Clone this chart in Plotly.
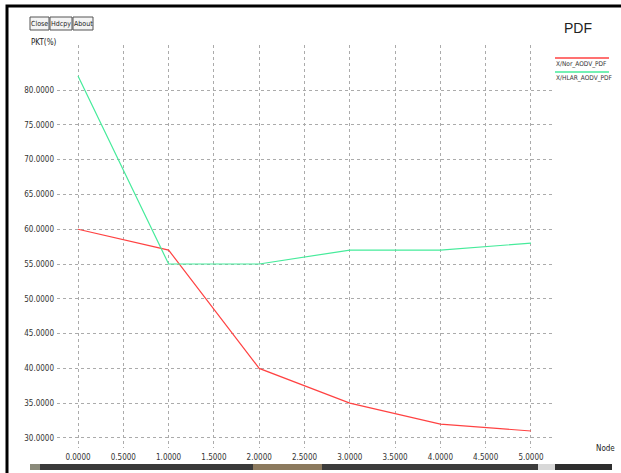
import plotly.graph_objects as go

nodes = [0, 1, 2, 3, 4, 5]
nor_aodv_pdf = [60, 57, 40, 35, 32, 31]
hlar_aodv_pdf = [82, 55, 55, 57, 57, 58]
series_names = ["X/Nor_AODV_PDF", "X/HLAR_AODV_PDF"]
x_ticks = [0, 0.5, 1, 1.5, 2, 2.5, 3, 3.5, 4, 4.5, 5]
y_ticks = [30, 35, 40, 45, 50, 55, 60, 65, 70, 75, 80]

RED = "#ff4242"
GREEN = "#46eb9b"
FONT = "Liberation Sans Narrow, Arial Narrow, DejaVu Sans Condensed, Liberation Sans, sans-serif"

fig = go.Figure()
fig.add_trace(go.Scatter(x=nodes, y=nor_aodv_pdf, mode="lines", name=series_names[0],
                         line=dict(color=RED, width=1.2), showlegend=False))
fig.add_trace(go.Scatter(x=nodes, y=hlar_aodv_pdf, mode="lines", name=series_names[1],
                         line=dict(color=GREEN, width=1.2), showlegend=False))

W, H = 621, 473
L, R, T, B = 57, 555, 45, 448

fig.update_layout(
    width=W, height=H,
    margin=dict(l=L, r=W - R, t=T, b=H - B, pad=0),
    paper_bgcolor="white", plot_bgcolor="white",
    font=dict(family=FONT, size=8, color="#333333"),
    xaxis=dict(range=[-0.232, 5.265], tickvals=x_ticks,
               ticktext=[f"{v:.4f}" for v in x_ticks],
               showgrid=True, gridcolor="#ababab", griddash="dot", gridwidth=1,
               zeroline=False, showline=False, ticks="", ticklabelstandoff=3,
               tickfont=dict(size=8, family=FONT, color="#333333")),
    yaxis=dict(range=[28.56, 86.47], tickvals=y_ticks,
               ticktext=[f"{v:.4f}" for v in y_ticks],
               showgrid=True, gridcolor="#ababab", griddash="dot", gridwidth=1,
               zeroline=False, showline=False, ticks="", ticklabelstandoff=2,
               tickfont=dict(size=8, family=FONT, color="#333333")),
)

# paper coordinates are relative to the plot area
def px_x(p):
    return (p - L) / (R - L)

def px_y(p):
    return (B - p) / (B - T)

shapes = []
annotations = []

# window frame
shapes.append(dict(type="path", xref="paper", yref="paper", layer="above",
                   path=f"M {px_x(7)} {px_y(473)} L {px_x(7)} {px_y(6)} L {px_x(621)} {px_y(6)}",
                   line=dict(color="black", width=3)))

# buttons
for label, x0, x1 in [("Close", 30, 49), ("Hdcpy", 50, 72), ("About", 73, 93)]:
    shapes.append(dict(type="rect", xref="paper", yref="paper",
                       x0=px_x(x0), x1=px_x(x1), y0=px_y(30), y1=px_y(17),
                       line=dict(color="#555555", width=1), fillcolor="#f4f4f4"))
    annotations.append(dict(xref="paper", yref="paper", x=px_x((x0 + x1) / 2), y=px_y(23.5),
                            text=label, showarrow=False, xanchor="center", yanchor="middle",
                            font=dict(family=FONT, size=7, color="#222222")))

annotations.append(dict(xref="paper", yref="paper", x=px_x(29), y=px_y(42.5), text="PKT(%)",
                        showarrow=False, xanchor="left", yanchor="middle",
                        font=dict(family=FONT, size=8, color="#222222")))
annotations.append(dict(xref="paper", yref="paper", x=px_x(562), y=px_y(28), text="PDF",
                        showarrow=False, xanchor="left", yanchor="middle",
                        font=dict(family="Liberation Sans, sans-serif", size=14, color="#222222")))
annotations.append(dict(xref="paper", yref="paper", x=px_x(594), y=px_y(448), text="Node",
                        showarrow=False, xanchor="left", yanchor="middle",
                        font=dict(family=FONT, size=8, color="#222222")))

# legend
for i, (name, col) in enumerate(zip(series_names, [RED, GREEN])):
    ly = 58 + 14 * i
    shapes.append(dict(type="line", xref="paper", yref="paper", x0=px_x(555), x1=px_x(609),
                       y0=px_y(ly), y1=px_y(ly), line=dict(color=col, width=1.5)))
    annotations.append(dict(xref="paper", yref="paper", x=px_x(554), y=px_y(ly + 5.5), text=name,
                            showarrow=False, xanchor="left", yanchor="middle",
                            font=dict(family=FONT, size=6.5, color="#333333")))

# bottom taskbar strip
for x0, x1, c in [(30, 40, "#8a8a7a"), (40, 253, "#3a3a3a"), (253, 322, "#8c7a5e"),
                  (322, 538, "#3c3c3c"), (538, 555, "#d8d8d8"), (555, 612, "#2e2e2e")]:
    shapes.append(dict(type="rect", xref="paper", yref="paper", x0=px_x(x0), x1=px_x(x1),
                       y0=px_y(470), y1=px_y(464), line=dict(width=0), fillcolor=c))

fig.update_layout(shapes=shapes, annotations=annotations)
fig.write_html("out.html", config={"displayModeBar": False},
               post_script="document.body.style.margin='0';document.body.style.overflow='hidden';")
